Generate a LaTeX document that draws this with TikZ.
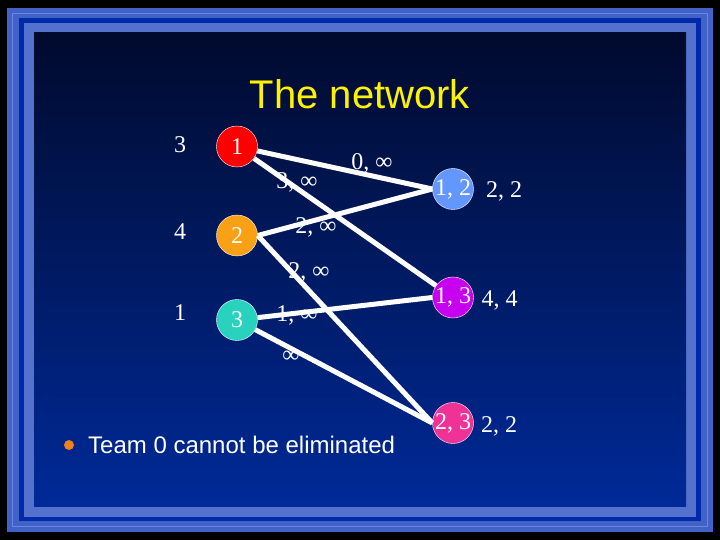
\documentclass[tikz,border=0pt]{standalone}
\usepackage{fontspec}
\setmainfont{Liberation Serif}
\newfontfamily\arial{Liberation Sans}
\usepackage{tikz}
\definecolor{frameout}{RGB}{66,98,200}
\definecolor{frameline}{RGB}{105,135,230}
\definecolor{framedark}{RGB}{0,42,170}
\definecolor{framelight}{RGB}{84,114,205}
\definecolor{paneltop}{RGB}{0,10,45}
\definecolor{panelbot}{RGB}{0,42,152}
\definecolor{teamred}{RGB}{255,0,0}
\definecolor{teamorange}{RGB}{250,160,20}
\definecolor{teamteal}{RGB}{40,210,190}
\definecolor{gameblue}{RGB}{100,150,255}
\definecolor{gamepurple}{RGB}{200,0,240}
\definecolor{gamepink}{RGB}{240,50,150}
\definecolor{bulletorange}{RGB}{240,130,30}

\begin{document}
\begin{tikzpicture}[x=1pt,y=-1pt,
  team/.style={circle,draw=white,thin,minimum size=41pt,inner sep=0pt,text=white,font=\fontsize{24}{26}\selectfont},
  lbl/.style={text=white,inner sep=0pt,font=\fontsize{24}{26}\selectfont},
  arc/.style={white,line width=5pt}]
  \fill[black] (0,0) rectangle (720,540);
  \fill[frameout] (7,8) rectangle (713,532);
  \draw[frameline] (12.5,13.5) rectangle (707.5,526.5);
  \fill[framedark] (19,18) rectangle (701,521);
  \fill[framelight] (24,23) rectangle (696,517);
  \shade[top color=paneltop,bottom color=panelbot] (34,33) rectangle (686,506);
  \node[text=yellow,font=\arial\fontsize{40}{44}\selectfont] (title) at (360,94) {The network};
  \node[lbl] (wA) at (180,145) {3};
  \node[lbl] (wB) at (180,232) {4};
  \node[lbl] (wC) at (180,313) {1};
  \node[lbl] (lAB) at (372,163) {0, ∞};
  \node[lbl] (lAC) at (297,182) {3, ∞};
  \node[lbl] (lBAB) at (316,227) {2, ∞};
  \node[lbl] (lBBC) at (309,272) {2, ∞};
  \node[lbl] (lCAC) at (297,315) {1, ∞};
  \node[lbl] (lCBC) at (291,357) {∞};
  \node[team,fill=teamred] (A) at (237,146.5) {1};
  \node[team,fill=teamorange] (B) at (237,235.5) {2};
  \node[team,fill=teamteal] (C) at (237,320) {3};
  \node[team,fill=gameblue] (AB) at (453,189) {1, 2};
  \node[team,fill=gamepurple] (AC) at (453,297.5) {1, 3};
  \node[team,fill=gamepink] (BC) at (453,423) {2, 3};
  \node[lbl] (rAB) at (504,191) {2, 2};
  \node[lbl] (rAC) at (499.5,300) {4, 4};
  \node[lbl] (rBC) at (499,426) {2, 2};
  \draw[arc] (A) -- (AB.west);
  \draw[arc] (A) -- (AC);
  \draw[arc] (B.east) -- (AB.west);
  \draw[arc] (B.east) -- (BC.west);
  \draw[arc] (C) -- (AC.west);
  \draw[arc] (C) -- (BC.west);
  \fill[bulletorange] (69,445) circle (5);
  \node[text=white,anchor=west,inner sep=0pt,font=\arial\fontsize{24}{26}\selectfont] (note) at (88,445) {Team 0 cannot be eliminated};
\end{tikzpicture}
\end{document}
